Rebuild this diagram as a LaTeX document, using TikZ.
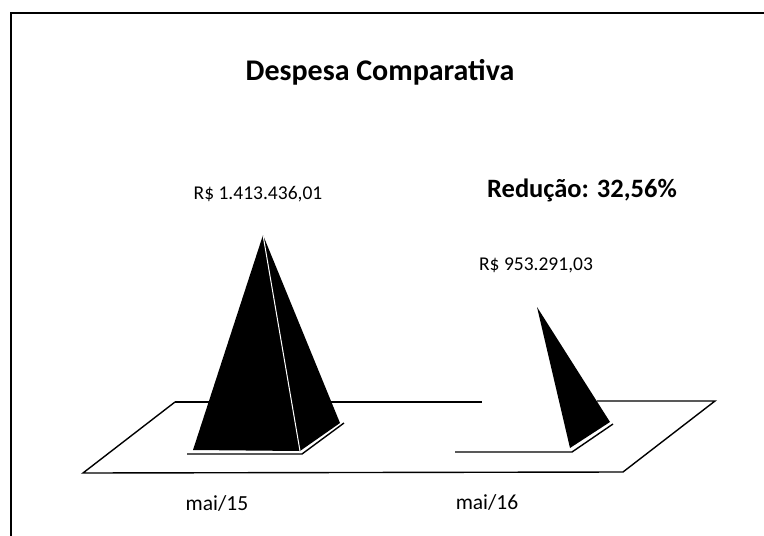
\documentclass[tikz,border=0pt]{standalone}
\usepackage{fontspec}
\setmainfont{Carlito}
\usepackage{tikz}

\begin{document}
\begin{tikzpicture}[x=1pt, y=-1pt]
	\useasboundingbox (0, 0) rectangle (764, 536);
	\draw[line width=1.2pt] (11, 536) -- (11, 13) -- (764, 13);
	\coordinate (BL) at (175, 402);
	\coordinate (BR) at (715, 401);
	\coordinate (FR) at (623, 472);
	\coordinate (FL) at (83, 473);
	\draw[line width=1.4pt] (BL) -- (482, 402);
	\draw[line width=1.4pt] (597, 401) -- (BR) -- (FR) -- (FL) -- (BL);
	\coordinate (A) at (193, 450);
	\coordinate (B) at (300, 451);
	\coordinate (C) at (340, 423);
	\coordinate (P) at (263, 235);
	\fill (A) -- (B) -- (P) -- cycle;
	\fill (B) -- (C) -- (P) -- cycle;
	\draw[white, line width=1pt] (P) -- (B);
	\draw[line width=1.4pt] (187, 454) -- (302, 454) -- (344, 423);
	\coordinate (D) at (570, 448);
	\coordinate (E) at (610, 422);
	\coordinate (Q) at (537, 307);
	\fill (D) -- (E) -- (Q) -- cycle;
	\draw[line width=1.4pt] (455, 452) -- (572, 452) -- (613, 424);
	\node[font=\fontsize{30}{36}\selectfont\bfseries] (title) at (380, 72) {Despesa Comparativa};
	\node[font=\fontsize{26.5}{32}\selectfont\bfseries] (red) at (582, 190) {Redução: 32,56\%};
	\node[font=\fontsize{19.5}{23}\selectfont] (v15) at (258, 194) {R\$ 1.413.436,01};
	\node[font=\fontsize{19.5}{23}\selectfont] (v16) at (536, 265) {R\$ 953.291,03};
	\node[font=\fontsize{21.5}{26}\selectfont] (m15) at (217, 503) {mai/15};
	\node[font=\fontsize{21.5}{26}\selectfont] (m16) at (487, 502) {mai/16};
\end{tikzpicture}
\end{document}
